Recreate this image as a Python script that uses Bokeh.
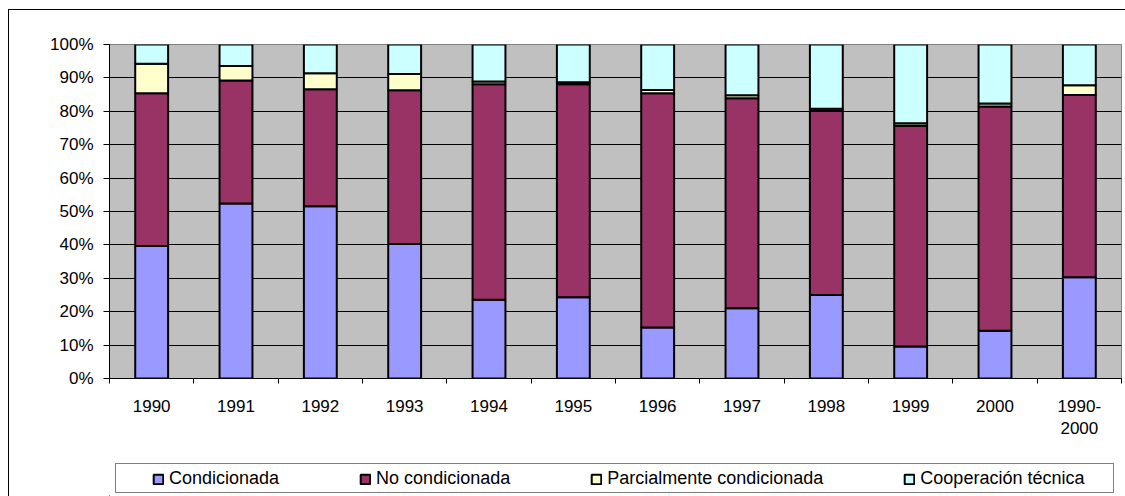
import numpy as np
from bokeh.plotting import figure
from bokeh.layouts import column
from bokeh.models import (Range1d, FixedTicker, Legend, LegendItem, ColumnDataSource)
from bokeh.embed import file_html
from bokeh.resources import INLINE

# ---- data (percent shares per year) ----
categories = ["1990", "1991", "1992", "1993", "1994", "1995", "1996",
              "1997", "1998", "1999", "2000", "1990-\n2000"]
condicionada = [39.7, 52.4, 51.6, 40.3, 23.6, 24.3, 15.3, 21.0, 25.0, 9.6, 14.3, 30.3]
no_condicionada = [45.7, 36.8, 35.0, 46.0, 64.5, 63.8, 70.1, 62.9, 55.1, 66.1, 67.1, 54.6]
parcialmente = [8.8, 4.4, 4.8, 4.9, 0.8, 0.6, 1.0, 0.9, 0.7, 0.7, 0.9, 2.9]
cooperacion = [5.8, 6.4, 8.6, 8.8, 11.1, 11.3, 13.6, 15.2, 19.2, 23.6, 17.7, 12.2]
series_names = ["Condicionada", "No condicionada",
                "Parcialmente condicionada", "Cooperación técnica"]
y_ticks = [0, 10, 20, 30, 40, 50, 60, 70, 80, 90, 100]
y_labels = ["0%", "10%", "20%", "30%", "40%", "50%", "60%", "70%", "80%", "90%", "100%"]

colors = ["#9999FF", "#993366", "#FFFFCC", "#CCFFFF"]
FONT = "Liberation Sans"

x = np.arange(len(categories)) + 0.5
keys = ["cond", "nocond", "parc", "coop"]
source = ColumnDataSource(dict(x=x, cond=condicionada, nocond=no_condicionada,
                               parc=parcialmente, coop=cooperacion))

p = figure(frame_width=1012, frame_height=334,
           min_border_left=100, min_border_right=4,
           min_border_top=34, min_border_bottom=75,
           x_range=Range1d(0, len(categories)), y_range=Range1d(0, 100),
           output_backend="svg", toolbar_location=None,
           background_fill_color="#C0C0C0", border_fill_color="white",
           outline_line_color="#808080", outline_line_width=1)

renderers = p.vbar_stack(keys, x="x", width=0.39, source=source,
                         fill_color=colors, line_color="black", line_width=2)

# x axis: labels at category centres, ticks at boundaries
p.xaxis.ticker = FixedTicker(ticks=list(x), minor_ticks=list(range(len(categories) + 1)))
p.xaxis.major_label_overrides = {float(xi): c for xi, c in zip(x, categories)}
p.xaxis.major_tick_out = 0
p.xaxis.major_tick_in = 0
p.xaxis.minor_tick_out = 5
p.xaxis.minor_tick_in = 0
p.xaxis.minor_tick_line_color = "black"
p.xaxis.major_label_standoff = 13

# y axis
p.yaxis.ticker = FixedTicker(ticks=y_ticks)
p.yaxis.major_label_overrides = {t: l for t, l in zip(y_ticks, y_labels)}
p.yaxis.major_tick_out = 6
p.yaxis.major_tick_in = 0
p.yaxis.minor_tick_line_color = None
p.yaxis.major_label_standoff = 10

for ax in p.axis:
    ax.axis_line_color = "black"
    ax.major_tick_line_color = "black"
    ax.major_label_text_font = FONT
    ax.major_label_text_font_size = "17px"
    ax.major_label_text_color = "black"

p.xgrid.visible = False
p.ygrid.grid_line_color = "black"
p.ygrid.grid_line_width = 1

# ---- legend strip below the chart ----
leg = figure(frame_width=1116, frame_height=43,
             min_border_left=0, min_border_right=0, min_border_top=0, min_border_bottom=0,
             x_axis_type=None, y_axis_type=None,
             x_range=Range1d(0, 1), y_range=Range1d(0, 1),
             output_backend="svg", toolbar_location=None,
             background_fill_color="white", border_fill_color="white",
             outline_line_color=None)
leg.grid.visible = False

# hidden proxy glyphs (outside the visible range) that only feed the legend swatches
proxy = ColumnDataSource(dict(x=[-10.0], top=[0.0]))
frame_r = leg.vbar(x="x", top="top", width=0.1, source=proxy, fill_alpha=0, line_alpha=0)
legend_box = Legend(items=[LegendItem(label=" ", renderers=[frame_r])],
                    orientation="horizontal", location=(106, 3),
                    padding=0, margin=0, spacing=0,
                    glyph_width=12, glyph_height=12, label_standoff=0,
                    label_width=985, label_height=28,
                    label_text_font=FONT, label_text_font_size="18px",
                    border_line_color="black", border_line_width=1,
                    background_fill_color="white", background_fill_alpha=1)
leg.add_layout(legend_box)

swatches = [leg.vbar(x="x", top="top", width=0.1, source=proxy,
                     fill_color=c, line_color="black", line_width=2)
            for c in colors]
legend = Legend(items=[LegendItem(label=n, renderers=[r]) for n, r in zip(series_names, swatches)],
                orientation="horizontal", location=(143, 7),
                padding=0, spacing=80, margin=0,
                glyph_width=12, glyph_height=12, label_standoff=5,
                label_height=20,
                label_text_font=FONT, label_text_font_size="18px",
                label_text_color="black",
                border_line_alpha=0, background_fill_alpha=0)
leg.add_layout(legend)

layout = column(p, leg, spacing=0,
                styles={"margin-left": "8px", "margin-top": "9px",
                        "border-left": "1px solid black", "border-top": "1px solid black"})

open("out.html", "w").write(file_html(layout, INLINE))
